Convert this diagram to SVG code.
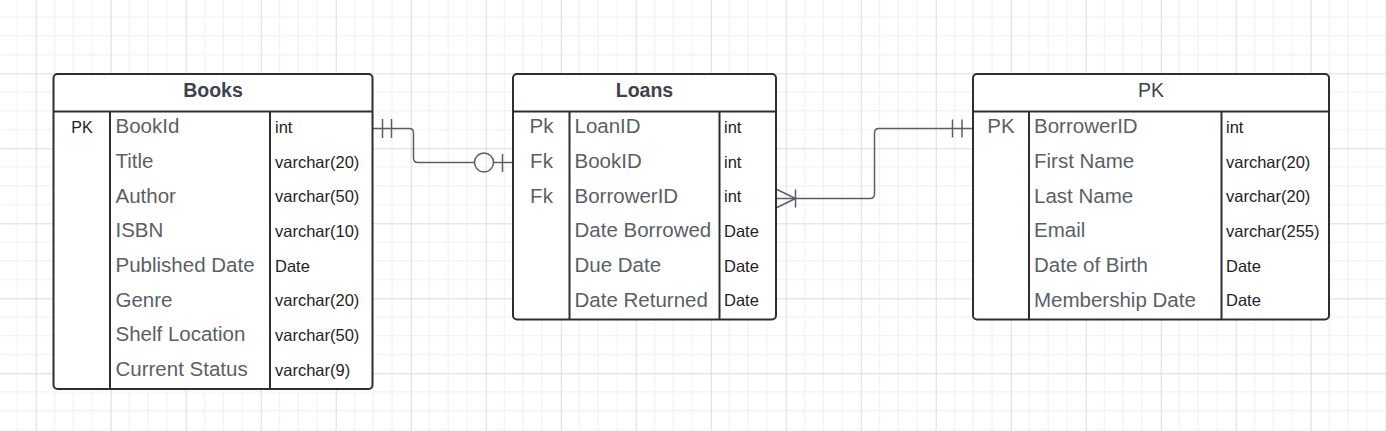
<svg xmlns="http://www.w3.org/2000/svg" width="1386" height="431" viewBox="0 0 1386 431">
<style>
.tbl{fill:#fff;stroke:#2b2f35;stroke-width:2}
.div{stroke:#2b2f35;stroke-width:2;fill:none}
.hdr{font-family:"Liberation Sans",Arial,sans-serif;font-size:19.5px;fill:#3d434b;text-anchor:middle}
.b{font-weight:bold}
.fld{font-family:"Liberation Sans",Arial,sans-serif;font-size:20.5px;fill:#5a5f66}
.typ{font-family:"Liberation Sans",Arial,sans-serif;font-size:16.5px;fill:#1f2226}
.key{font-family:"Liberation Sans",Arial,sans-serif;font-size:20.5px;fill:#5a5f66;text-anchor:middle}
.keys{font-family:"Liberation Sans",Arial,sans-serif;font-size:16px;fill:#1f2226;text-anchor:middle}
.con{fill:none;stroke:#5a5f66;stroke-width:1.5}
</style>
<defs>
<pattern id="grid" patternUnits="userSpaceOnUse" x="35.7" y="73.3" width="75" height="75">
<path d="M18.75,0V75M37.5,0V75M56.25,0V75M0,18.75H75M0,37.5H75M0,56.25H75" stroke="#efefef" stroke-width="1" fill="none"/>
<path d="M0.5,0V75M0,0.5H75" stroke="#dcdcdc" stroke-width="1" fill="none"/>
</pattern>
</defs>
<rect width="1386" height="431" fill="#fff"/>
<rect width="1386" height="431" fill="url(#grid)"/>

<g id="connectors">
<path class="con" d="M373,128.5H409Q413.5,128.5 413.5,133V158Q413.5,162.5 418,162.5H474.5"/>
<path class="con" d="M493.5,162.5H513"/>
<circle class="con" cx="484" cy="162.5" r="9.5" fill="#fff"/>
<path class="con" d="M382.5,119V138M391.5,119V138M502.5,154V172"/>
<path class="con" d="M776,198.5H870Q874.5,198.5 874.5,194V133Q874.5,128.5 879,128.5H973"/>
<path class="con" d="M776,189L795.5,198.5L776,208M795.5,189.5V207.5"/>
<path class="con" d="M952.5,119.5V137.5M962,119.5V137.5"/>
</g>

<g id="books">
<rect class="tbl" x="53.5" y="74" width="319" height="315" rx="4"/>
<path class="div" d="M53.5,111.5H372.5M110,111.5V389M270,111.5V389"/>
<text class="hdr b" x="213" y="96.5">Books</text>
<text class="keys" x="82" y="132.5">PK</text>
<text class="fld" x="115.5" y="133.3">BookId</text>
<text class="fld" x="115.5" y="168">Title</text>
<text class="fld" x="115.5" y="202.6">Author</text>
<text class="fld" x="115.5" y="237.3">ISBN</text>
<text class="fld" x="115.5" y="272">Published Date</text>
<text class="fld" x="115.5" y="306.6">Genre</text>
<text class="fld" x="115.5" y="341.3">Shelf Location</text>
<text class="fld" x="115.5" y="376">Current Status</text>
<text class="typ" x="275" y="132.8">int</text>
<text class="typ" x="275" y="167.5">varchar(20)</text>
<text class="typ" x="275" y="202.1">varchar(50)</text>
<text class="typ" x="275" y="236.8">varchar(10)</text>
<text class="typ" x="275" y="271.5">Date</text>
<text class="typ" x="275" y="306.1">varchar(20)</text>
<text class="typ" x="275" y="340.8">varchar(50)</text>
<text class="typ" x="275" y="375.5">varchar(9)</text>
</g>

<g id="loans">
<rect class="tbl" x="513" y="74" width="263" height="245.5" rx="4"/>
<path class="div" d="M513,111.5H776M569.5,111.5V319.5M719.5,111.5V319.5"/>
<text class="hdr b" x="644.5" y="96.5">Loans</text>
<text class="key" x="541.5" y="133.3">Pk</text>
<text class="key" x="541.5" y="168">Fk</text>
<text class="key" x="541.5" y="202.6">Fk</text>
<text class="fld" x="574.5" y="133.3">LoanID</text>
<text class="fld" x="574.5" y="168">BookID</text>
<text class="fld" x="574.5" y="202.6">BorrowerID</text>
<text class="fld" x="574.5" y="237.3">Date Borrowed</text>
<text class="fld" x="574.5" y="272">Due Date</text>
<text class="fld" x="574.5" y="306.6">Date Returned</text>
<text class="typ" x="724" y="132.8">int</text>
<text class="typ" x="724" y="167.5">int</text>
<text class="typ" x="724" y="202.1">int</text>
<text class="typ" x="724" y="236.8">Date</text>
<text class="typ" x="724" y="271.5">Date</text>
<text class="typ" x="724" y="306.1">Date</text>
</g>

<g id="borrowers">
<rect class="tbl" x="973" y="74" width="356" height="245.5" rx="4"/>
<path class="div" d="M973,111.5H1329M1029,111.5V319.5M1221.5,111.5V319.5"/>
<text class="hdr" x="1151" y="96.5">PK</text>
<text class="key" x="1001" y="133.3">PK</text>
<text class="fld" x="1034" y="133.3">BorrowerID</text>
<text class="fld" x="1034" y="168">First Name</text>
<text class="fld" x="1034" y="202.6">Last Name</text>
<text class="fld" x="1034" y="237.3">Email</text>
<text class="fld" x="1034" y="272">Date of Birth</text>
<text class="fld" x="1034" y="306.6">Membership Date</text>
<text class="typ" x="1226" y="132.8">int</text>
<text class="typ" x="1226" y="167.5">varchar(20)</text>
<text class="typ" x="1226" y="202.1">varchar(20)</text>
<text class="typ" x="1226" y="236.8">varchar(255)</text>
<text class="typ" x="1226" y="271.5">Date</text>
<text class="typ" x="1226" y="306.1">Date</text>
</g>
</svg>
